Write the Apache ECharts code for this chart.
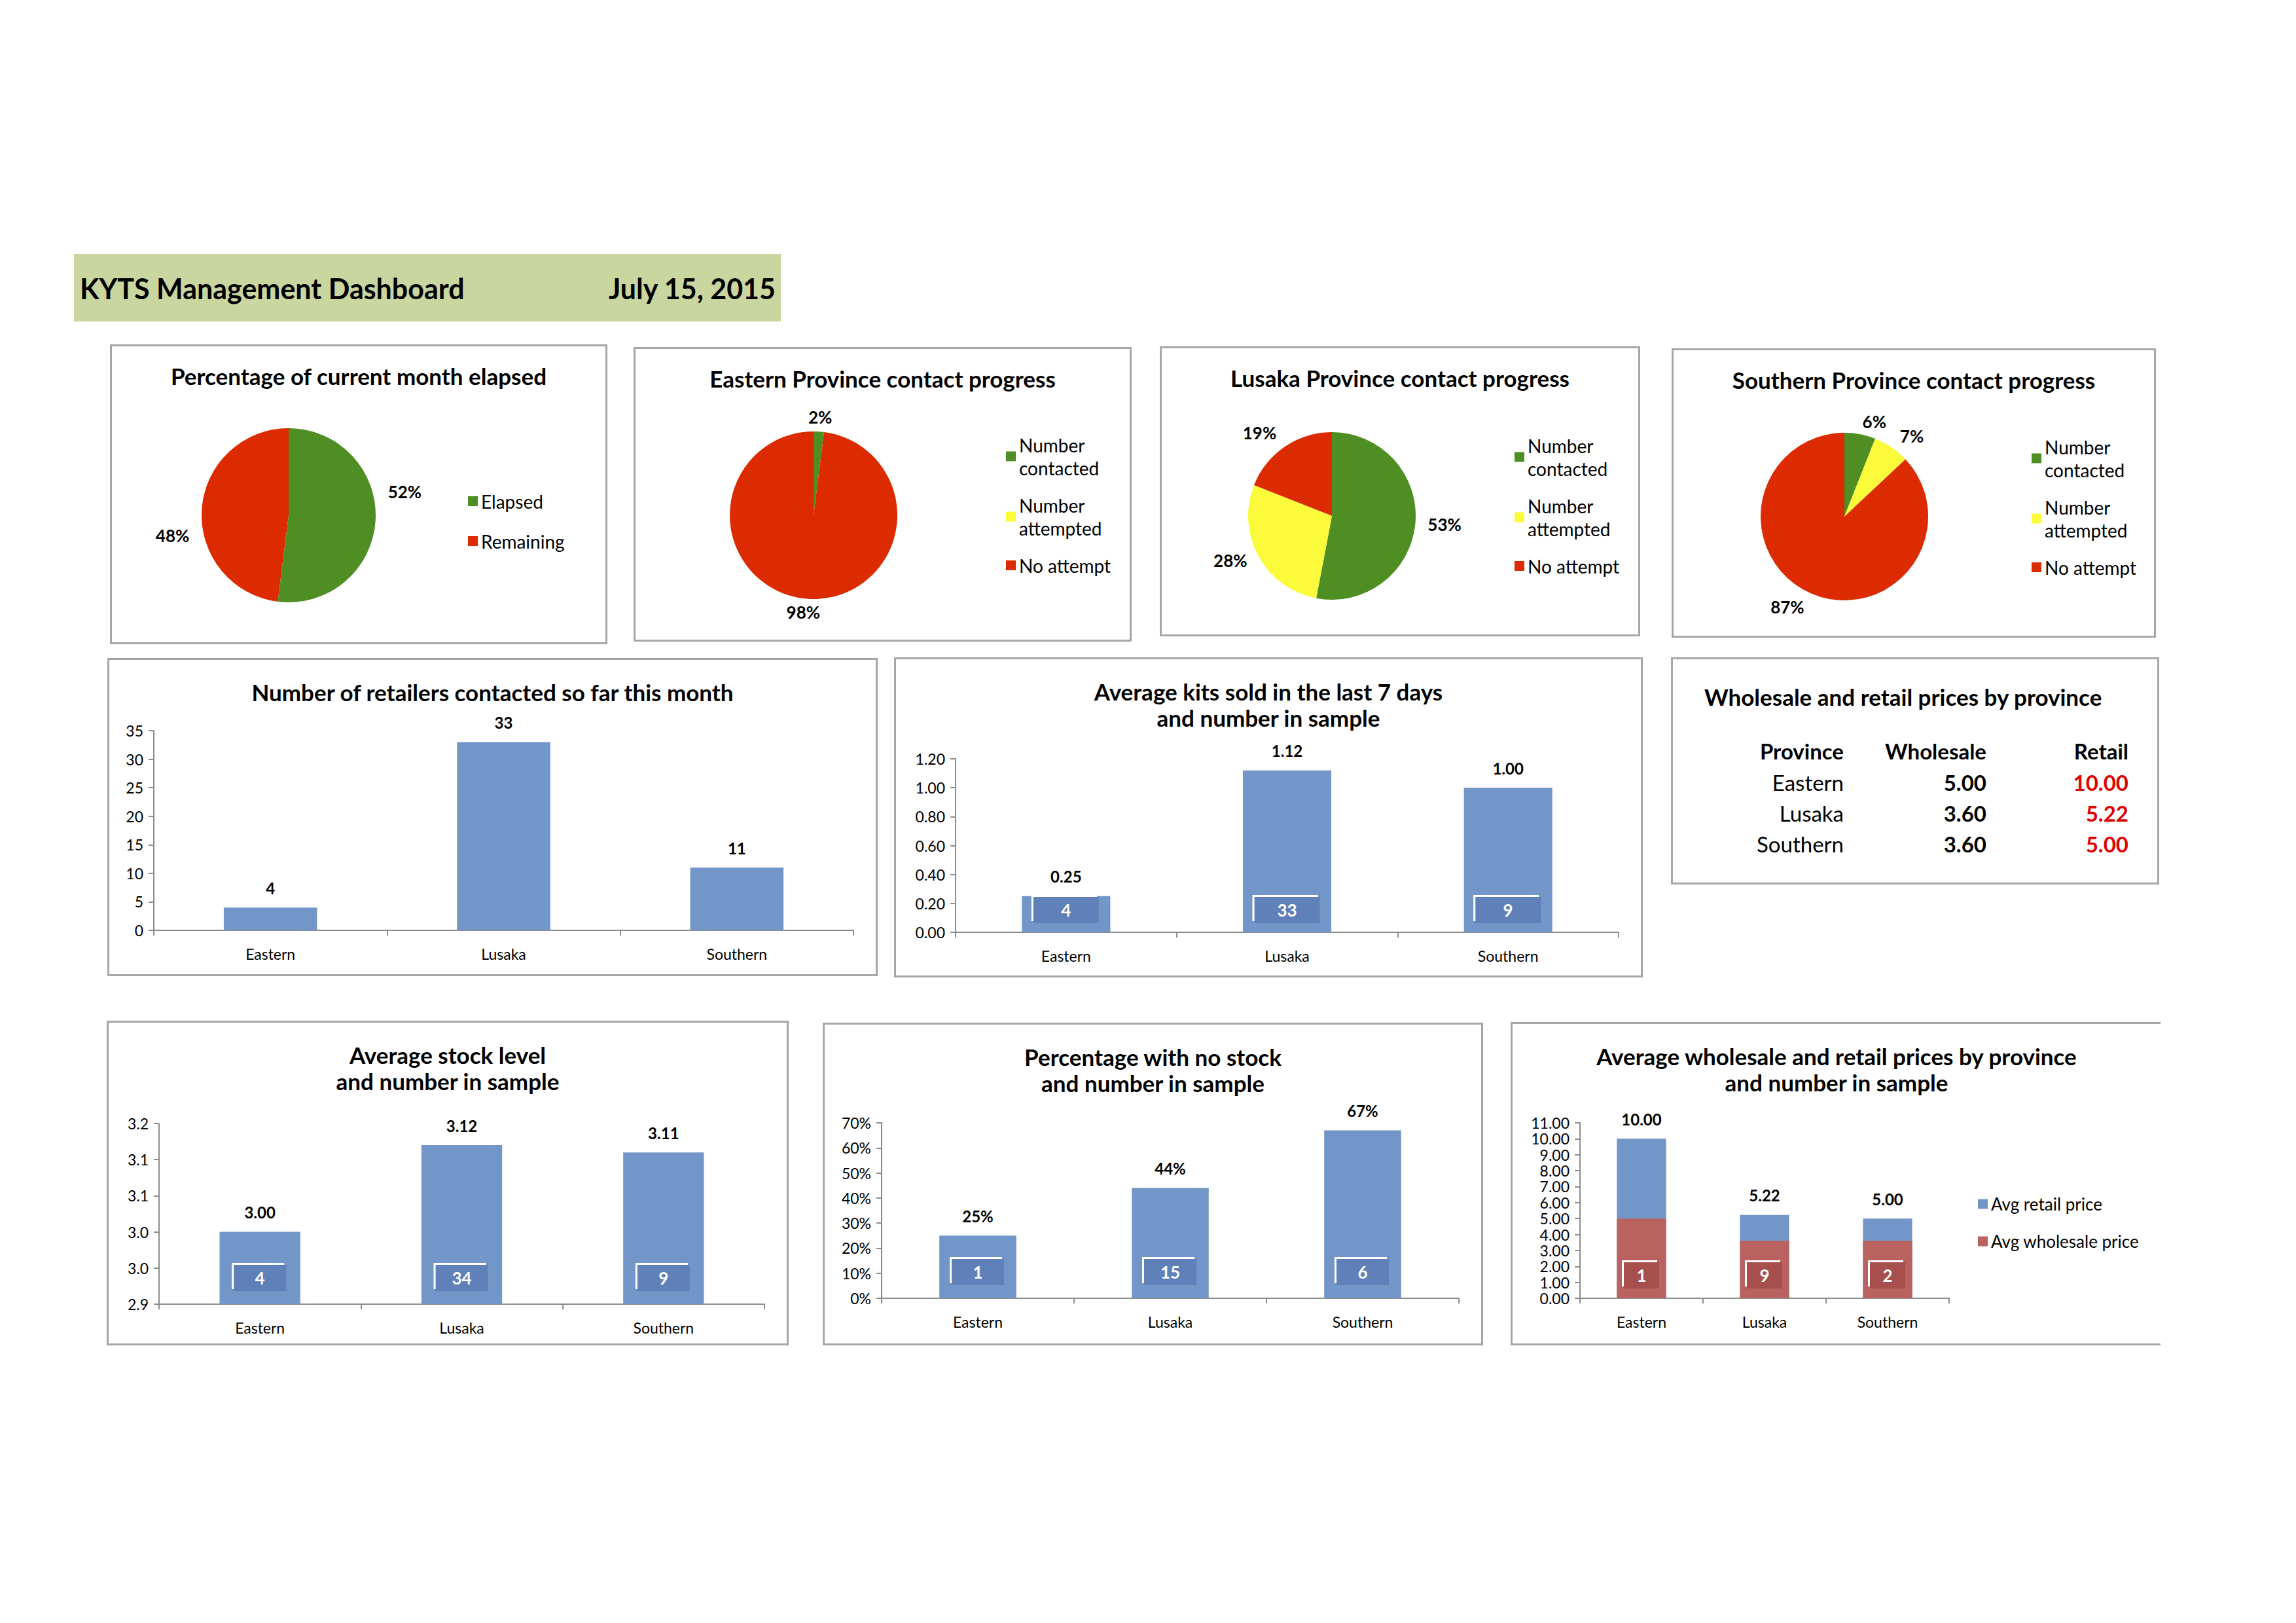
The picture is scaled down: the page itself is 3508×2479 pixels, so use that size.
<!DOCTYPE html>
<html>
<head>
<meta charset="utf-8">
<script src="https://cdn.jsdelivr.net/npm/echarts@6/dist/echarts.min.js"></script>
<style>
body { margin: 0; background: #fff; width: 3508px; height: 2479px; position: relative; overflow: hidden; }
.panel { position: absolute; box-sizing: border-box; border: 3px solid #a6a6a6; background: #fff; }
</style>
</head>
<body>
<script>
// data
var provinces = ['Eastern', 'Lusaka', 'Southern'];
var monthParts = ['Elapsed', 'Remaining'];
var monthPct = [52, 48];
var contactParts = ['Number\ncontacted', 'Number\nattempted', 'No attempt'];
var easternPct = [2, 0, 98];
var lusakaPct = [53, 28, 19];
var southernPct = [6, 7, 87];
var retailersContacted = [4, 33, 11];
var kitsSold = [0.25, 1.12, 1.00];
var kitsSample = [4, 33, 9];
var stockLevel = [3.00, 3.12, 3.11];
var stockSample = [4, 34, 9];
var noStockShare = [0.25, 0.44, 0.67];
var noStockSample = [1, 15, 6];
var wholesalePrice = [5.00, 3.60, 3.60];
var retailPrice = [10.00, 5.22, 5.00];
var priceSample = [1, 9, 2];
var tableHeads = ['Province', 'Wholesale', 'Retail'];

var FONT = 'Lato';
var GREEN = '#4e8e22', YELLOW = '#fbfb3b', RED = '#dc2b01';
var BLUE = '#7396c8', BLUE_DARK = '#6180b9', BROWN = '#b9625f', BROWN_DARK = '#a6504d';
var AXIS = '#8c8c8c';

function panel(left, top, w, h, extra) {
    var d = document.createElement('div');
    d.className = 'panel';
    d.style.cssText = 'left:' + left + 'px;top:' + top + 'px;width:' + w + 'px;height:' + h + 'px;' + (extra || '');
    document.body.appendChild(d);
    return echarts.init(d, null, { renderer: 'svg' });
}

function titleOpt(text, top) {
    return {
        text: text, left: 'center', top: top,
        textStyle: { fontFamily: FONT, fontSize: 35, fontWeight: 'bold', color: '#000', lineHeight: 40 }
    };
}

// pie panels
function pieChart(chart, title, names, values, colors, center, radius, legendPos, nudge) {
    chart.setOption({
        animation: false,
        title: titleOpt(title, 20),
        legend: {
            orient: 'vertical', left: legendPos[0], top: legendPos[1],
            icon: 'rect', itemWidth: 15, itemHeight: 15, itemGap: legendPos[2],
            textStyle: { fontFamily: FONT, fontSize: 28, color: '#000', lineHeight: 35 },
            data: names
        },
        series: [{
            type: 'pie', center: center, radius: radius,
            startAngle: 90, clockwise: true, avoidLabelOverlap: false,
            color: colors,
            itemStyle: { borderWidth: 0 },
            label: {
                show: true, position: 'outside', fontFamily: FONT, fontSize: 26, fontWeight: 'bold', color: '#000',
                formatter: function (p) { return p.value ? p.value + '%' : ''; }
            },
            labelLine: { show: false, length: 14, length2: 0 },
            labelLayout: function (p) {
                var n = nudge ? nudge[p.dataIndex] : [0, 0];
                return { dx: n[0], dy: n[1] };
            },
            data: names.map(function (n, i) { return { name: n, value: values[i] }; })
        }]
    });
}

pieChart(panel(168, 526, 760, 458), 'Percentage of current month elapsed', monthParts, monthPct,
    [GREEN, RED], [270, 258], 133, [539, 214, 26], [[0, -45], [0, 40]]);
pieChart(panel(968, 530, 761, 450), 'Eastern Province contact progress', contactParts, easternPct,
    [GREEN, YELLOW, RED], [272, 254], 128, [561, 124, 22], [[-22, -8], [0, 0], [24, 6]]);
pieChart(panel(1772, 529, 734, 443), 'Lusaka Province contact progress', contactParts, lusakaPct,
    [GREEN, YELLOW, RED], [260, 256], 128, [534, 126, 22], [[0, 0], [0, 0], [0, -10]]);
pieChart(panel(2554, 532, 740, 442), 'Southern Province contact progress', contactParts, southernPct,
    [GREEN, YELLOW, RED], [261, 254], 128, [542, 125, 22], [[-4, -6], [0, -6], [0, 8]]);

// bar panels
function catAxis() {
    return {
        type: 'category', data: provinces,
        axisLine: { lineStyle: { color: AXIS, width: 2 } },
        axisTick: { show: true, length: 8, lineStyle: { color: AXIS, width: 2 } },
        axisLabel: { fontFamily: FONT, fontSize: 23, color: '#000', margin: 24 }
    };
}
function valAxis(min, max, interval, fmt) {
    return {
        type: 'value', min: min, max: max, interval: interval, startValue: min,
        axisLine: { show: true, lineStyle: { color: AXIS, width: 2 } },
        axisTick: { show: true, length: 8, lineStyle: { color: AXIS, width: 2 } },
        splitLine: { show: false },
        axisLabel: { fontFamily: FONT, fontSize: 23, color: '#000', margin: 16, formatter: fmt }
    };
}
function topLabel(fmt) {
    return { show: true, position: 'top', distance: 18, fontFamily: FONT, fontSize: 24, fontWeight: 'bold', color: '#000', formatter: fmt };
}
function sampleLabel(sample, boxColor, w, dist) {
    return {
        show: true, position: 'insideBottom', distance: dist,
        formatter: function (p) { return String(sample[p.dataIndex]); },
        fontFamily: FONT, fontSize: 26, fontWeight: 'bold', color: '#fff',
        backgroundColor: boxColor, width: w, height: 40, lineHeight: 40, align: 'center',
        shadowColor: '#ffffff', shadowOffsetX: -3, shadowOffsetY: -3, shadowBlur: 0
    };
}

function barChart(chart, title, grid, values, yAxis, fmt, sample, boxW, boxDist) {
    var series = [{
        type: 'bar', data: values, barWidth: '40%', itemStyle: { color: BLUE },
        label: topLabel(function (p) { return fmt(p.value); })
    }];
    if (sample) {
        series.push({
            type: 'bar', data: values, barWidth: '40%', barGap: '-100%', silent: true,
            itemStyle: { color: 'rgba(0,0,0,0)' },
            label: sampleLabel(sample, BLUE_DARK, boxW, boxDist)
        });
    }
    chart.setOption({
        animation: false,
        title: titleOpt(title, 24),
        grid: grid,
        xAxis: catAxis(),
        yAxis: yAxis,
        series: series
    });
}

barChart(panel(164, 1005, 1177, 486), 'Number of retailers contacted so far this month',
    { left: 68, top: 108, right: 34, bottom: 67 }, retailersContacted,
    valAxis(0, 35, 5, function (v) { return String(v); }),
    function (v) { return String(v); }, null);

barChart(panel(1366, 1004, 1144, 489), 'Average kits sold in the last 7 days\nand number in sample',
    { left: 91, top: 152, right: 34, bottom: 66 }, kitsSold,
    valAxis(0, 1.2, 0.2, function (v) { return v.toFixed(2); }),
    function (v) { return v.toFixed(2); }, kitsSample, 100, 14);

barChart(panel(163, 1559, 1042, 496), 'Average stock level\nand number in sample',
    { left: 77, top: 154, right: 34, bottom: 60 }, stockLevel,
    valAxis(2.9, 3.15, 0.05, function (v) { return (Math.round(v * 10 + 1e-6) / 10).toFixed(1); }),
    function (v) { return v.toFixed(2); }, stockSample, 80, 20);

barChart(panel(1257, 1562, 1009, 493), 'Percentage with no stock\nand number in sample',
    { left: 87, top: 150, right: 34, bottom: 69 }, noStockShare,
    valAxis(0, 0.7, 0.1, function (v) { return Math.round(v * 100) + '%'; }),
    function (v) { return Math.round(v * 100) + '%'; }, noStockSample, 80, 20);

// prices: retail behind, wholesale in front
var priceChart = panel(2308, 1561, 993, 494, 'border-right:none;');
priceChart.setOption({
    animation: false,
    title: titleOpt('Average wholesale and retail prices by province\nand number in sample', 24),
    grid: { left: 103, top: 151, right: 323, bottom: 69 },
    legend: {
        orient: 'vertical', left: 706, top: 255, icon: 'rect', itemWidth: 15, itemHeight: 15, itemGap: 27,
        textStyle: { fontFamily: FONT, fontSize: 26, color: '#000', lineHeight: 30 },
        data: ['Avg retail price', 'Avg wholesale price']
    },
    xAxis: catAxis(),
    yAxis: valAxis(0, 11, 1, function (v) { return v.toFixed(2); }),
    series: [{
        name: 'Avg retail price', type: 'bar', data: retailPrice, barWidth: '40%', itemStyle: { color: BLUE },
        label: topLabel(function (p) { return p.value.toFixed(2); })
    }, {
        name: 'Avg wholesale price', type: 'bar', data: wholesalePrice, barWidth: '40%', barGap: '-100%',
        itemStyle: { color: BROWN },
        label: sampleLabel(priceSample, BROWN_DARK, 54, 15)
    }]
});

// header band
var head = document.createElement('div');
head.style.cssText = 'position:absolute;left:113px;top:388px;width:1080px;height:103px;';
document.body.appendChild(head);
var headChart = echarts.init(head, null, { renderer: 'svg' });
headChart.setOption({
    animation: false,
    graphic: [
        { type: 'rect', shape: { x: 0, y: 0, width: 1080, height: 103 }, style: { fill: '#c9d6a0' } },
        { type: 'text', x: 9, y: 52, style: { text: 'KYTS Management Dashboard', font: 'bold 43px ' + FONT, fill: '#000', textVerticalAlign: 'middle' } },
        { type: 'text', x: 1072, y: 52, style: { text: 'July 15, 2015', font: 'bold 43px ' + FONT, fill: '#000', textAlign: 'right', textVerticalAlign: 'middle' } }
    ]
});

// price table
var tableChart = panel(2553, 1004, 746, 347);
var colRight = [261, 479, 696];
var tableEls = [
    { type: 'text', x: 48, y: 57, style: { text: 'Wholesale and retail prices by province', font: 'bold 35px ' + FONT, fill: '#000', textVerticalAlign: 'middle' } }
];
tableHeads.forEach(function (h, c) {
    tableEls.push({ type: 'text', x: colRight[c], y: 140, style: { text: h, font: 'bold 33px ' + FONT, fill: '#000', textAlign: 'right', textVerticalAlign: 'middle' } });
});
provinces.forEach(function (p, r) {
    var y = 188 + r * 47;
    tableEls.push({ type: 'text', x: colRight[0], y: y, style: { text: p, font: '33px ' + FONT, fill: '#000', textAlign: 'right', textVerticalAlign: 'middle' } });
    tableEls.push({ type: 'text', x: colRight[1], y: y, style: { text: wholesalePrice[r].toFixed(2), font: 'bold 33px ' + FONT, fill: '#000', textAlign: 'right', textVerticalAlign: 'middle' } });
    tableEls.push({ type: 'text', x: colRight[2], y: y, style: { text: retailPrice[r].toFixed(2), font: 'bold 33px ' + FONT, fill: '#e00000', textAlign: 'right', textVerticalAlign: 'middle' } });
});
tableChart.setOption({ animation: false, graphic: tableEls });
</script>
</body>
</html>
